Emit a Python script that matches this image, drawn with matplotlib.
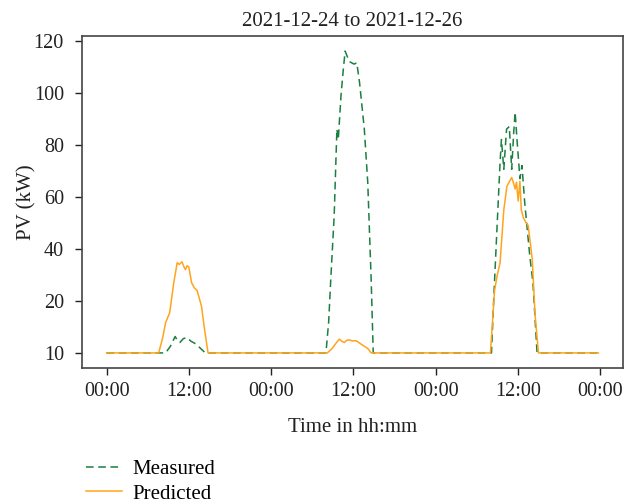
import matplotlib
matplotlib.use("Agg")
import matplotlib.pyplot as plt
import numpy as np

plt.rcParams['font.family'] = ['Liberation Serif', 'DejaVu Serif']

title = "2021-12-24 to 2021-12-26"
x_tick_pos = [0, 12, 24, 36, 48, 60, 72]
x_tick_labels = ["00:00", "12:00", "00:00", "12:00", "00:00", "12:00", "00:00"]
y_tick_pos = [0, 20, 40, 60, 80, 100, 120]
y_tick_labels = ["10", "20", "40", "60", "80", "100", "120"]

# hours since 2021-12-24 00:00
t_measured = [0, 8.6, 9.3, 10.0, 10.4, 10.7, 11.2, 11.75, 12.3, 13.0, 13.6, 14.4,
              24, 32.0, 32.4, 32.7, 33.2, 33.6, 33.8, 34.2, 34.5, 34.8, 35.1, 35.4, 36.1, 36.5, 36.9,
              37.6, 38.1, 38.6, 38.9,
              48, 56.15, 56.5, 56.9, 57.4, 57.6, 57.95, 58.35, 58.75, 59.1, 59.4, 59.6, 59.9,
              60.3, 60.6, 61.0, 61.75, 62.2, 62.8, 71.75]
pv_measured = [0, 0, 2.5, 6.3, 4.5, 4.0, 5.5, 5.9, 4.5, 3.5, 2.0, 0,
               0, 0, 12, 28, 52.6, 86, 82, 99, 108, 116, 114, 112, 111, 111.5, 104,
               86, 65.5, 28, 0,
               0, 0, 22, 44.9, 73, 82, 70.6, 86, 87, 70.6, 85, 92.5, 81,
               67, 72, 57.7, 37, 27, 0, 0]

t_predicted = [0, 7.6, 8.2, 8.6, 9.2, 9.8, 10.3, 10.6, 11.0, 11.3, 11.5, 11.75, 12.0, 12.4,
               12.8, 13.2, 13.85, 14.3, 14.8,
               24, 32.2, 32.9, 33.4, 33.95, 34.3, 34.7, 35.0, 35.4, 35.9, 36.4, 36.9, 37.4, 38.1, 38.6,
               48, 56.0, 56.6, 57.0, 57.4, 57.95, 58.4, 58.8, 59.1, 59.4, 59.6, 59.8, 60.05, 60.3, 60.5,
               60.8, 61.2, 61.5, 62.1, 62.5, 63.0, 71.75]
pv_predicted = [0, 0, 6, 11.6, 15.4, 27, 34.7, 34.0, 35, 33, 32, 33.5, 33, 27,
                25, 24, 17.9, 8.9, 0,
                0, 0, 1.7, 3.5, 5.3, 4.5, 4.0, 4.8, 5.0, 4.6, 4.7, 3.8, 2.9, 1.7, 0,
                0, 0, 24, 30, 34.6, 55, 64, 66, 67.4, 65, 63, 65.6, 58.4, 66, 55,
                52, 50, 49, 36, 15, 0, 0]

fig = plt.figure(figsize=(6.34, 5.03), dpi=100)
ax = fig.add_axes([82/634, 1 - 368/503, (623-82)/634, (368-36)/503])

ax.plot(t_measured, pv_measured, color='#1a7f3f', linestyle=(0, (5, 3)), linewidth=1.1, label='Measured')
ax.plot(t_predicted, pv_predicted, color='#ffa41c', linestyle='-', linewidth=1.1, label='Predicted')

ax.set_xticks(x_tick_pos)
ax.set_xticklabels(x_tick_labels)
ax.set_yticks(y_tick_pos)
ax.set_yticklabels(y_tick_labels)
ax.tick_params(labelsize=14.5, colors='#222222', length=5, width=1, direction='out', pad=5)
ax.tick_params(axis='y', pad=8)
for s in ax.spines.values():
    s.set_color('#444444')
    s.set_linewidth(1.2)

ax.set_title(title, fontsize=15, color='#222222', pad=7)
ax.set_xlabel("Time in hh:mm", fontsize=15, color='#222222', labelpad=12)
ax.set_ylabel("PV (kW)", fontsize=15, color='#222222')
ax.yaxis.set_label_coords(-0.085, 0.5)

fig.legend(loc='upper left', bbox_to_anchor=(78/634, 1 - 451/503), frameon=False,
           fontsize=15, handlelength=1.7, handletextpad=0.5, labelspacing=0.25, borderaxespad=0)

fig.savefig("out.png", dpi=100)
